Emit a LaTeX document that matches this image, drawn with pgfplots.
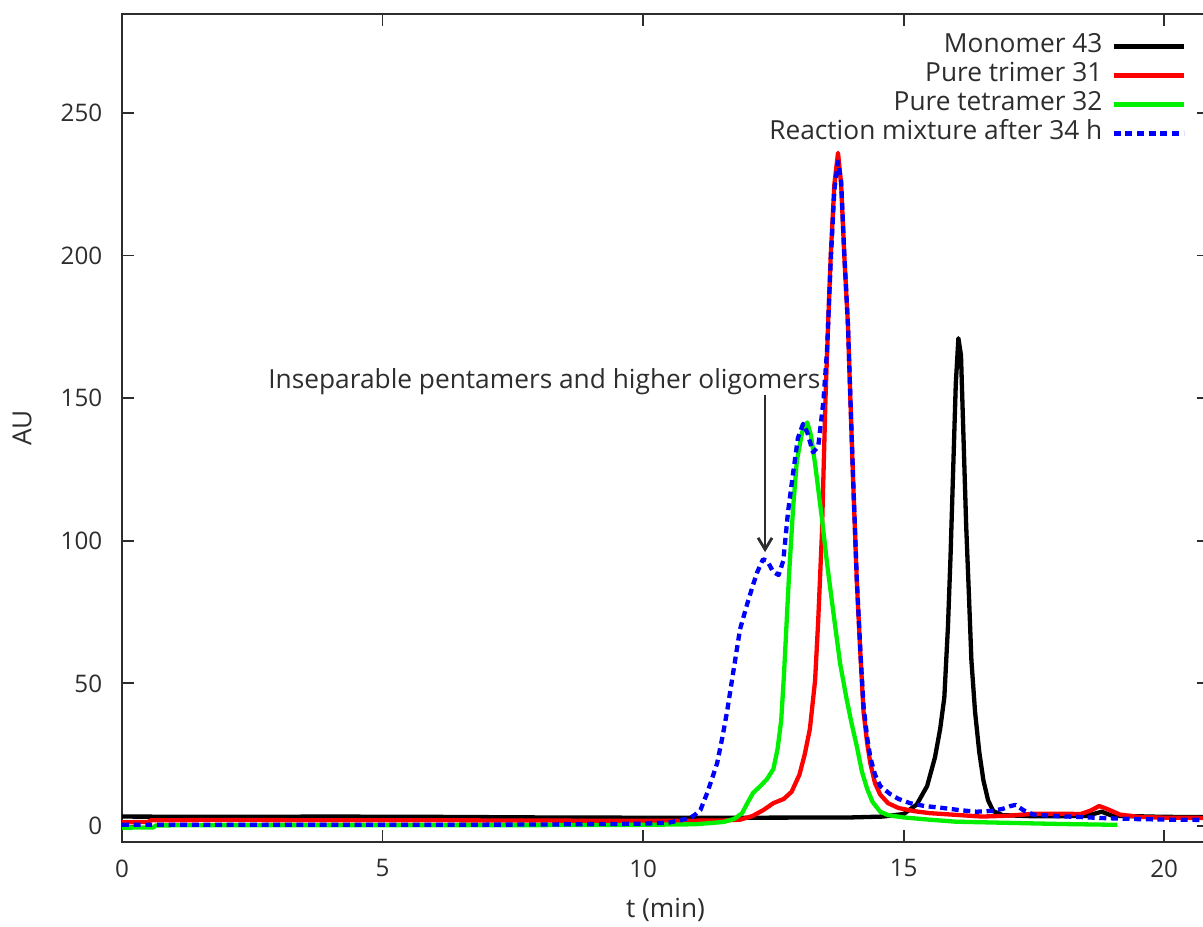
\documentclass[border=0pt]{standalone}
\usepackage{fontspec}
\setmainfont{Open Sans}
\usepackage{pgfplots}
\pgfplotsset{compat=1.18}
\usetikzlibrary{arrows.meta}

\definecolor{gpred}{RGB}{255,0,0}
\definecolor{gpgreen}{RGB}{0,240,0}
\definecolor{gpblue}{RGB}{0,0,255}
\definecolor{gptext}{RGB}{45,45,45}

\begin{document}
\begin{tikzpicture}
\begin{axis}[
    name=ax,
    scale only axis,
    width=467.4pt, height=356.0pt,
    xmin=0, xmax=20.86,
    ymin=-5.6, ymax=284.7,
    xtick={0,5,10,15,20},
    ytick={0,50,100,150,200,250},
    tick align=inside,
    xtick pos=both, ytick pos=both,
    major tick length=5pt,
    axis line style={gptext, line width=1pt},
    tick style={gptext, line width=0.8pt},
    font=\fontsize{11.3}{13.5}\selectfont,
    /pgf/number format/assume math mode=true,
    ticklabel style={text=gptext, font=\fontsize{10.4}{12}\selectfont},
    xticklabel style={yshift=-4pt},
    yticklabel style={xshift=-5pt},
    xlabel={t (min)}, ylabel={AU},
    xlabel style={at={(axis description cs:0.5,-0.082)}, anchor=center, text=gptext},
    ylabel style={at={(axis description cs:-0.092,0.5)}, anchor=center, text=gptext},
    legend plot pos=right,
    legend cell align=right,
    legend image code/.code={\draw[#1] (0pt,0pt) -- (30pt,0pt);},
    legend style={at={(axis description cs:0.979,0.979)}, anchor=north east,
        draw=none, fill=none, inner sep=0pt, text=gptext,
        nodes={text height=8pt, text depth=2.5pt, inner sep=1pt},
        row sep=0pt, column sep=3pt},
    every axis plot/.append style={line width=1.85pt, line join=round},
]
\addplot[black] coordinates {
(0,3.3) (2,3.2) (4,3.3) (6,3.2) (8,3.0) (10,2.9) (12,2.9) (14,3.0) (14.6,3.3)
(15.0,4.2) (15.25,7.5) (15.45,14) (15.6,24) (15.7,34) (15.78,45) (15.85,70)
(15.9,95) (15.95,125) (16.0,155) (16.05,171) (16.1,165) (16.15,135) (16.2,105)
(16.25,82) (16.3,58) (16.37,40) (16.45,26) (16.53,16) (16.62,9) (16.72,5.2)
(16.9,3.8) (17.5,3.4) (18.5,3.5) (18.8,5) (19.0,3.6) (20,3.2) (21,3.1)
};
\addlegendentry{Monomer 43}
\addplot[gpred] coordinates {
(0,1.3) (0.5,1.4) (0.55,2) (2,2.1) (4,2.0) (6,2.0) (8,1.9) (10,1.8) (11.5,1.9)
(11.86,2.2) (12.1,3.5) (12.3,5.5) (12.5,8) (12.7,9.5) (12.85,12) (13.0,18)
(13.1,25) (13.2,34) (13.3,51) (13.36,72) (13.43,102) (13.5,150) (13.55,176)
(13.6,200) (13.67,225) (13.74,236) (13.8,225) (13.86,200) (13.93,176)
(13.98,148) (14.03,121) (14.1,86) (14.17,60) (14.23,40) (14.3,29) (14.36,22)
(14.45,15) (14.55,11) (14.7,8) (14.9,6.3) (15.2,5.2) (15.5,4.5) (16.0,3.9)
(16.5,3.3) (17.0,3.6) (17.5,4.3) (18.0,4.3) (18.4,4.2) (18.6,5.5) (18.75,7)
(18.9,6) (19.15,4) (19.5,3.2) (20.0,2.9) (21,2.8)
};
\addlegendentry{Pure trimer 31}
\addplot[gpgreen] coordinates {
(0,-0.6) (0.6,-0.5) (0.65,0.2) (2,0.3) (5,0.3) (8,0.3) (10,0.4) (11,0.6)
(11.54,1.4) (11.75,2.5) (11.9,4.5) (12.0,8) (12.11,11.6) (12.25,14) (12.38,16.5)
(12.5,20) (12.58,27) (12.65,37) (12.7,52) (12.75,70) (12.8,88) (12.88,112)
(12.95,128) (13.05,138) (13.15,141.5) (13.22,137) (13.3,127) (13.43,108)
(13.53,92) (13.65,75) (13.78,57) (13.9,45) (14.0,36) (14.1,28) (14.2,19)
(14.3,13) (14.4,8.5) (14.55,5) (14.7,3.8) (15.0,3) (15.5,2.2) (16.0,1.5)
(17.0,1.1) (18.0,0.7) (19.1,0.4)
};
\addlegendentry{Pure tetramer 32}
\addplot[gpblue, dash pattern=on 3pt off 2pt] coordinates {
(0,0.4) (2,0.4) (5,0.4) (8,0.5) (10,0.8) (10.5,1.2) (10.9,2.8) (11.0,4)
(11.1,5.6) (11.23,11.6) (11.33,17) (11.42,22) (11.52,31) (11.61,40) (11.73,54)
(11.86,69) (12.0,78) (12.1,84) (12.19,89) (12.3,93.5) (12.38,93) (12.5,89)
(12.6,88) (12.69,93) (12.78,110) (12.88,124) (12.97,136) (13.07,141) (13.15,138)
(13.26,131) (13.36,133) (13.46,149) (13.53,167) (13.6,198) (13.67,223)
(13.74,233) (13.8,226) (13.86,201) (13.93,176) (13.98,149) (14.03,122)
(14.1,87) (14.17,61) (14.23,42) (14.3,31) (14.36,24) (14.45,18) (14.55,14)
(14.74,11.2) (14.9,9.5) (15.12,8) (15.4,7) (15.76,6.3) (16.1,5.5) (16.4,5)
(16.7,5.3) (16.9,6) (17.05,7) (17.15,7.4) (17.3,5.5) (17.49,4) (18.0,3.4)
(18.33,3.2) (18.77,2.8) (19.5,2.4) (20.2,2.2) (21,2.1)
};
\addlegendentry{Reaction mixture after 34 h}
\node[anchor=west, text=gptext, inner sep=0pt] at (axis cs:2.8,155.7)
    {Inseparable pentamers and higher oligomers};
\draw[gptext, line width=1.2pt, -{Straight Barb[length=5pt, width=6pt]}]
    (axis cs:12.34,151) -- (axis cs:12.34,96);
\end{axis}
\pgfresetboundingbox
\path[use as bounding box] ([shift={(-52.46pt,-36.55pt)}]ax.south west)
    rectangle ([shift={(464.8pt,6.02pt)}]ax.north west);
\end{tikzpicture}
\end{document}
